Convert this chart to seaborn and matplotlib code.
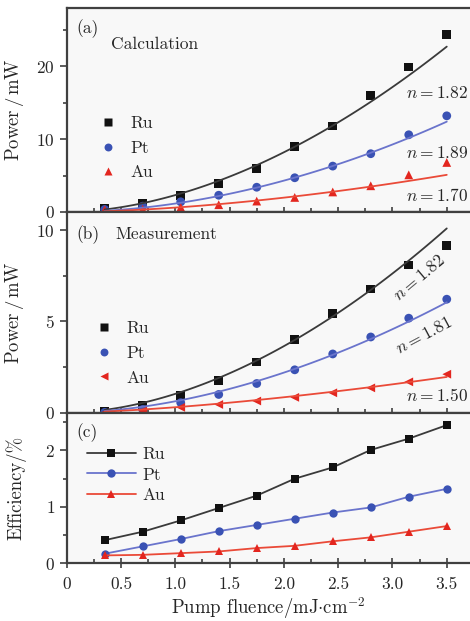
import numpy as np
import pandas as pd
import matplotlib
matplotlib.use("Agg")
import matplotlib.pyplot as plt
import seaborn as sns
from matplotlib.ticker import MultipleLocator

# Data
fluence = [0.35, 0.70, 1.05, 1.40, 1.75, 2.10, 2.45, 2.80, 3.15, 3.50]
metals = ["Ru", "Pt", "Au"]

# (a) calculated output power (mW)
calc_ru = [0.5, 1.2, 2.3, 3.9, 6.0, 9.0, 11.8, 16.0, 19.9, 24.4]
calc_pt = [0.35, 0.8, 1.4, 2.3, 3.4, 4.7, 6.3, 8.0, 10.6, 13.2]
calc_au = [0.3, 0.4, 0.65, 1.0, 1.5, 2.0, 2.75, 3.6, 5.1, 6.8]
calc_n = [1.82, 1.89, 1.70]          # fitted exponents
calc_fit_end = [22.7, 12.4, 5.1]     # fit curve value at 3.5 mJ/cm2

# (b) measured output power (mW)
meas_ru = [0.05, 0.42, 0.96, 1.75, 2.78, 4.0, 5.42, 6.78, 8.09, 9.18]
meas_pt = [0.02, 0.18, 0.55, 1.0, 1.6, 2.35, 3.22, 4.15, 5.18, 6.22]
meas_au = [0.0, 0.1, 0.29, 0.45, 0.64, 0.84, 1.09, 1.36, 1.69, 2.11]
meas_n = [1.82, 1.81, 1.50]
meas_fit_end = [10.1, 6.05, 1.96]

# (c) conversion efficiency (%)
eff_ru = [0.41, 0.56, 0.76, 0.98, 1.20, 1.50, 1.70, 2.01, 2.21, 2.45]
eff_pt = [0.17, 0.30, 0.43, 0.57, 0.68, 0.79, 0.90, 0.99, 1.18, 1.32]
eff_au = [0.14, 0.15, 0.18, 0.21, 0.27, 0.31, 0.39, 0.46, 0.56, 0.66]

marker_col = {"Ru": "#111111", "Pt": "#3a52b4", "Au": "#e3261f"}
line_col = {"Ru": "#3a3a3a", "Pt": "#6a74cc", "Au": "#ea4a38"}

sns.set_style("ticks")
plt.rcParams["font.family"] = ["cmr10", "DejaVu Serif"]
plt.rcParams["mathtext.fontset"] = "cm"
plt.rcParams["axes.unicode_minus"] = False
plt.rcParams["axes.formatter.use_mathtext"] = True


def long_df(series):
    rows = []
    for m, vals in zip(metals, series):
        for x, v in zip(fluence, vals):
            rows.append({"x": x, "y": v, "metal": m})
    return pd.DataFrame(rows)


def fit_df(n_list, end_list):
    xs = np.linspace(fluence[0], fluence[-1], 120)
    rows = []
    for m, n, end in zip(metals, n_list, end_list):
        amp = end / fluence[-1] ** n
        for x in xs:
            rows.append({"x": x, "y": amp * x ** n, "metal": m})
    return pd.DataFrame(rows)


fig = plt.figure(figsize=(4.7, 6.21), dpi=100)
left, width = 66.7 / 470, 1 - 66.7 / 470
H = 621
axa = fig.add_axes([left, 1 - 212 / H, width, (212 - 8) / H])
axb = fig.add_axes([left, 1 - 412.7 / H, width, (412.7 - 212) / H])
axc = fig.add_axes([left, 1 - 563.3 / H, width, (563.3 - 412.7) / H])

fs = 12.5
ylab_power = r"Power$\,/\,$mW"

# ---- panel (a)
df_a = long_df([calc_ru, calc_pt, calc_au])
sns.lineplot(data=fit_df(calc_n, calc_fit_end), x="x", y="y", hue="metal",
             palette=line_col, lw=1.3, legend=False, ax=axa)
sns.scatterplot(data=df_a, x="x", y="y", hue="metal", style="metal",
                markers={"Ru": "s", "Pt": "o", "Au": "^"}, palette=marker_col,
                s=40, edgecolor="none", ax=axa)
axa.set_ylim(0, 28)
axa.yaxis.set_major_locator(MultipleLocator(10))
axa.yaxis.set_minor_locator(MultipleLocator(5))
axa.set_ylabel(ylab_power, fontsize=fs + 1)
axa.text(0.025, 0.945, "(a)", transform=axa.transAxes, fontsize=fs, va="top")
axa.text(0.11, 0.86, "Calculation", transform=axa.transAxes, fontsize=fs, va="top")
for txt, yy in zip(calc_n, [0.585, 0.29, 0.08]):
    axa.text(0.995, yy, rf"$n=${txt:.2f}", transform=axa.transAxes,
             fontsize=fs, ha="right", va="center")
axa.legend(loc="upper left", bbox_to_anchor=(0.028, 0.53), frameon=False,
           fontsize=fs, handletextpad=0.3, labelspacing=0.52, borderpad=0.2,
           markerscale=0.9)

# ---- panel (b)
df_b = long_df([meas_ru, meas_pt, meas_au])
sns.lineplot(data=fit_df(meas_n, meas_fit_end), x="x", y="y", hue="metal",
             palette=line_col, lw=1.3, legend=False, ax=axb)
sns.scatterplot(data=df_b, x="x", y="y", hue="metal", style="metal",
                markers={"Ru": "s", "Pt": "o", "Au": "<"}, palette=marker_col,
                s=40, edgecolor="none", ax=axb)
axb.set_ylim(0, 11)
axb.yaxis.set_major_locator(MultipleLocator(5))
axb.yaxis.set_minor_locator(MultipleLocator(2.5))
axb.set_ylabel(ylab_power, fontsize=fs + 1)
axb.text(0.025, 0.935, "(b)", transform=axb.transAxes, fontsize=fs, va="top")
axb.text(0.12, 0.925, "Measurement", transform=axb.transAxes, fontsize=fs, va="top")
axb.text(0.875, 0.67, r"$n=$1.82", transform=axb.transAxes, fontsize=fs,
         ha="center", va="center", rotation=40)
axb.text(0.885, 0.385, r"$n=$1.81", transform=axb.transAxes, fontsize=fs,
         ha="center", va="center", rotation=28)
axb.text(0.995, 0.085, r"$n=$1.50", transform=axb.transAxes, fontsize=fs,
         ha="right", va="center")
axb.legend(loc="upper left", bbox_to_anchor=(0.02, 0.52), frameon=False,
           fontsize=fs, handletextpad=0.3, labelspacing=0.55, borderpad=0.2,
           markerscale=0.9)

# ---- panel (c)
df_c = long_df([eff_ru, eff_pt, eff_au])
sns.lineplot(data=df_c, x="x", y="y", hue="metal", style="metal",
             markers={"Ru": "s", "Pt": "o", "Au": "^"}, dashes=False,
             palette=line_col, lw=1.3, markersize=6, markeredgewidth=0, ax=axc)
for line, m in zip(axc.lines, metals):
    line.set_markerfacecolor(marker_col[m])
axc.set_ylim(0, 2.67)
axc.yaxis.set_major_locator(MultipleLocator(1))
axc.yaxis.set_minor_locator(MultipleLocator(0.5))
axc.set_ylabel("Efficiency/%", fontsize=fs + 1)
axc.set_xlabel(r"Pump fluence/mJ$\cdot$cm$^{-2}$", fontsize=fs + 1)
axc.text(0.025, 0.93, "(c)", transform=axc.transAxes, fontsize=fs, va="top")
leg = axc.legend(loc="upper left", bbox_to_anchor=(0.02, 0.855), frameon=False,
                 fontsize=fs, handletextpad=0.4, labelspacing=0.3,
                 borderpad=0.2, handlelength=2.8)
for h, m in zip(leg.legend_handles, metals):
    h.set_markerfacecolor(marker_col[m])

for ax in (axa, axb, axc):
    ax.set_facecolor("#f8f8f8")
    ax.set_xlim(0, 3.714)
    ax.xaxis.set_major_locator(MultipleLocator(0.5))
    ax.xaxis.set_minor_locator(MultipleLocator(0.25))
    ax.spines["right"].set_visible(False)
    for s in ("left", "bottom", "top"):
        ax.spines[s].set_color("#404040")
        ax.spines[s].set_linewidth(1.6)
    ax.tick_params(axis="x", which="both", top=False, labelsize=fs,
                   color="#404040", width=1.2)
    ax.tick_params(axis="x", which="major", direction="inout", length=7, pad=6)
    ax.tick_params(axis="x", which="minor", direction="in", length=3)
    ax.tick_params(axis="y", which="both", direction="out", labelsize=fs,
                   color="#404040", width=1.2)
    ax.tick_params(axis="y", which="major", length=5)
    ax.tick_params(axis="y", which="minor", length=3)
    ax.yaxis.set_label_coords(-0.10, 0.5)
for ax in (axa, axb):
    ax.set_xlabel("")
    ax.tick_params(axis="x", labelbottom=False)
axc.set_xticks([0, 0.5, 1.0, 1.5, 2.0, 2.5, 3.0, 3.5])
axc.set_xticklabels(["0", "0.5", "1.0", "1.5", "2.0", "2.5", "3.0", "3.5"])
axc.xaxis.labelpad = 2

fig.savefig("out.png", dpi=100)
